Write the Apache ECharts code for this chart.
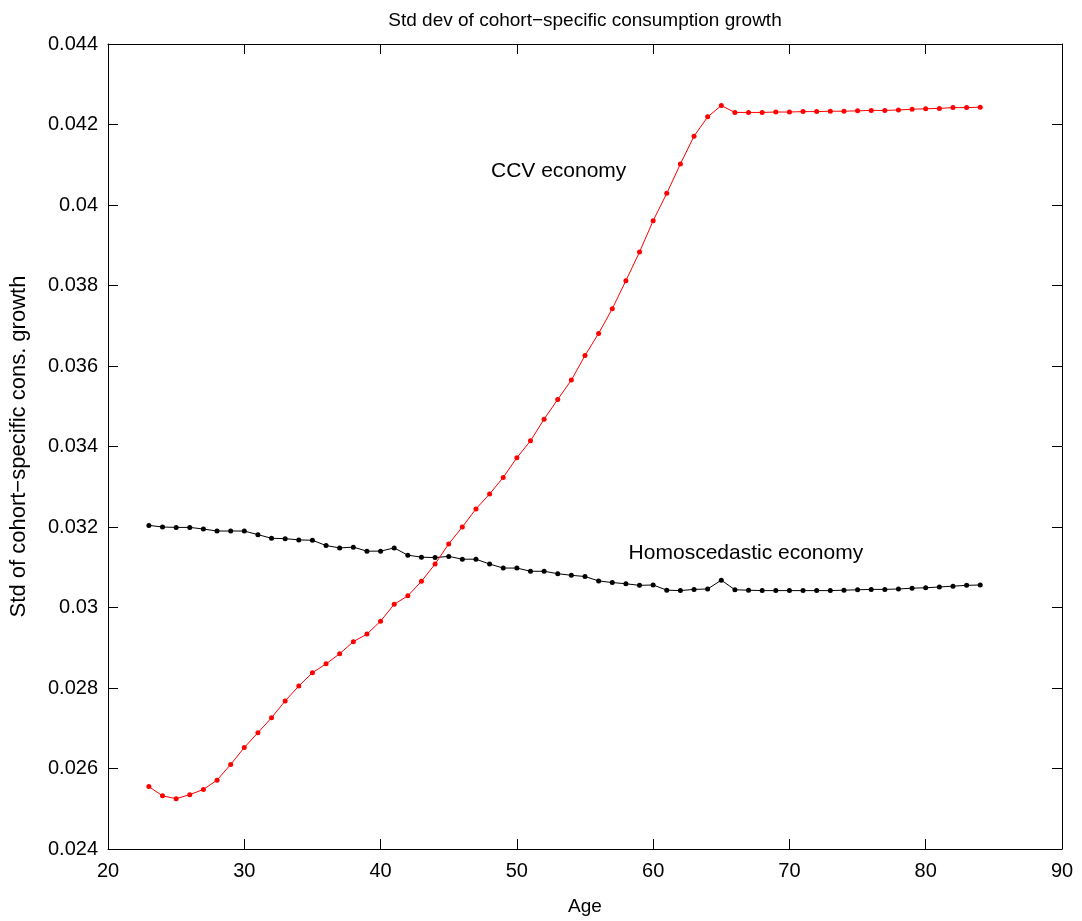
<!DOCTYPE html>
<html>
<head>
<meta charset="utf-8">
<script src="https://cdn.jsdelivr.net/npm/echarts@6/dist/echarts.min.js"></script>
<style>html,body{margin:0;padding:0;background:#fff}#c{width:1082px;height:921px}</style>
</head>
<body>
<div id="c"></div>
<script>
const ages = [23,24,25,26,27,28,29,30,31,32,33,34,35,36,37,38,39,40,41,42,43,44,45,46,47,48,49,50,51,52,53,54,55,56,57,58,59,60,61,62,63,64,65,66,67,68,69,70,71,72,73,74,75,76,77,78,79,80,81,82,83,84];
const ccv = [0.02555,0.02532,0.02525,0.02535,0.02548,0.02571,0.02610,0.02652,0.02689,0.02726,0.02768,0.02805,0.02838,0.02860,0.02885,0.02915,0.02934,0.02966,0.03008,0.03029,0.03065,0.03108,0.03158,0.03200,0.03245,0.03282,0.03323,0.03372,0.03414,0.03468,0.03517,0.03565,0.03626,0.03681,0.03742,0.03812,0.03883,0.03961,0.04029,0.04102,0.04171,0.04219,0.04247,0.04230,0.04230,0.04230,0.04231,0.04231,0.04232,0.04232,0.04233,0.04233,0.04234,0.04235,0.04235,0.04236,0.04238,0.04239,0.04240,0.04242,0.04242,0.04243];
const homo = [0.03204,0.03200,0.03199,0.03199,0.03195,0.03190,0.03190,0.03190,0.03181,0.03172,0.03171,0.03168,0.03167,0.03154,0.03148,0.03150,0.03140,0.03140,0.03148,0.03130,0.03125,0.03124,0.03127,0.03120,0.03120,0.03108,0.03098,0.03098,0.03090,0.03090,0.03084,0.03080,0.03077,0.03066,0.03062,0.03059,0.03055,0.03056,0.03043,0.03042,0.03045,0.03046,0.03068,0.03044,0.03043,0.03042,0.03042,0.03042,0.03042,0.03042,0.03042,0.03043,0.03044,0.03045,0.03045,0.03046,0.03048,0.03049,0.03051,0.03053,0.03055,0.03056];
const xTicks = [20,30,40,50,60,70,80,90];
const yTicks = [0.024,0.026,0.028,0.03,0.032,0.034,0.036,0.038,0.04,0.042,0.044];
const titleText = 'Std dev of cohort\u2212specific consumption growth';
const yName = 'Std of cohort\u2212specific cons. growth';
const xName = 'Age';
const ccvLabel = {text:'CCV economy', coord:[48.1, 0.04083]};
const homoLabel = {text:'Homoscedastic economy', coord:[58.2, 0.03136]};

const FF = '"Liberation Sans", Arial, Helvetica, sans-serif';
const chart = echarts.init(document.getElementById('c'), null, {renderer:'canvas'});
const pair = (ys) => ages.map((a,i)=>[a, ys[i]]);
const fmtY = v => String(parseFloat(v.toFixed(3)));
const axisCommon = {
  axisLine:{show:true, onZero:false, lineStyle:{color:'#000', width:1}},
  axisTick:{show:true, inside:true, length:10, lineStyle:{color:'#000', width:1}},
  splitLine:{show:false}
};
chart.setOption({
  animation:false,
  backgroundColor:'#fff',
  title:{text:titleText, left:580, top:6, textAlign:'center',
    textStyle:{fontFamily:FF, fontSize:19, fontWeight:'normal', color:'#000'}},
  grid:{left:99, right:20, top:44, bottom:64, containLabel:false},
  xAxis:[
    Object.assign({type:'value', min:20, max:90, interval:10, position:'bottom',
      name:xName, nameLocation:'middle', nameGap:48,
      nameTextStyle:{fontFamily:FF, fontSize:19, color:'#000'},
      axisLabel:{fontFamily:FF, fontSize:20, color:'#000', margin:12,
        formatter: v => xTicks.includes(v) ? String(v) : ''}}, axisCommon),
    Object.assign({type:'value', min:20, max:90, interval:10, position:'top',
      axisLabel:{show:false}}, axisCommon)
  ],
  yAxis:[
    Object.assign({type:'value', min:0.024, max:0.044, interval:0.002, position:'left',
      name:yName, nameLocation:'middle', nameGap:78, nameRotate:90,
      nameTextStyle:{fontFamily:FF, fontSize:22, color:'#000'},
      axisLabel:{fontFamily:FF, fontSize:20, color:'#000', margin:10,
        formatter: v => fmtY(v)}}, axisCommon),
    Object.assign({type:'value', min:0.024, max:0.044, interval:0.002, position:'right',
      axisLabel:{show:false}}, axisCommon)
  ],
  series:[
    {type:'line', name:'Homoscedastic', data:pair(homo), xAxisIndex:0, yAxisIndex:0,
      symbol:'circle', symbolSize:5, showAllSymbol:true,
      lineStyle:{color:'#000', width:1}, itemStyle:{color:'#000'},
      markPoint:{symbol:'circle', symbolSize:0, silent:true,
        data:[{coord:homoLabel.coord, label:{show:true, position:'right', distance:0,
          formatter:homoLabel.text, fontFamily:FF, fontSize:21, color:'#000'}}]}},
    {type:'line', name:'CCV', data:pair(ccv), xAxisIndex:0, yAxisIndex:0,
      symbol:'circle', symbolSize:5, showAllSymbol:true,
      lineStyle:{color:'#ff0000', width:1}, itemStyle:{color:'#ff0000'},
      markPoint:{symbol:'circle', symbolSize:0, silent:true,
        data:[{coord:ccvLabel.coord, label:{show:true, position:'right', distance:0,
          formatter:ccvLabel.text, fontFamily:FF, fontSize:21, color:'#000'}}]}}
  ]
});
</script>
</body>
</html>
